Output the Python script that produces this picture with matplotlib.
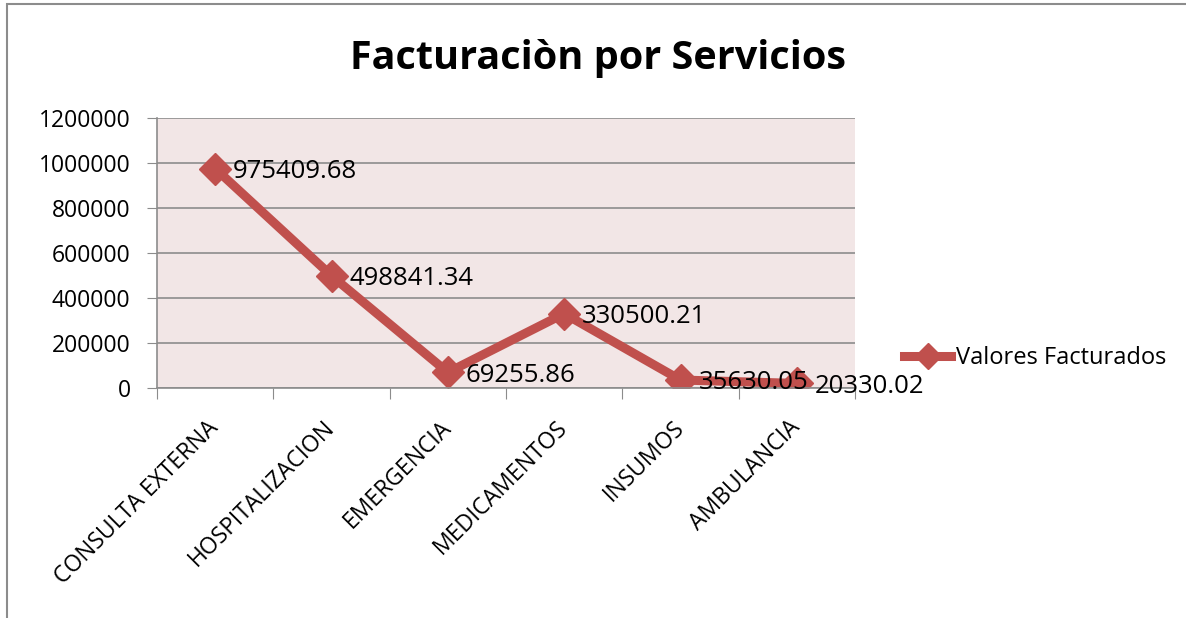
import matplotlib
matplotlib.use('Agg')
import matplotlib.pyplot as plt
from matplotlib.patches import Rectangle

# datos
servicios = ['CONSULTA EXTERNA', 'HOSPITALIZACION', 'EMERGENCIA', 'MEDICAMENTOS', 'INSUMOS', 'AMBULANCIA']
valores = [975409.68, 498841.34, 69255.86, 330500.21, 35630.05, 20330.02]
etiquetas = ['975409.68', '498841.34', '69255.86', '330500.21', '35630.05', '20330.02']
yticks = [0, 200000, 400000, 600000, 800000, 1000000, 1200000]

plt.rcParams['font.family'] = ['Open Sans', 'DejaVu Sans']
rojo = '#C0504D'

fig = plt.figure(figsize=(11.86, 6.18), dpi=100)
fig.patch.set_facecolor('white')
# borde del grafico
fig.patches.append(Rectangle((7 / 1186, -0.05), 1.2, 1 - 4 / 618 + 0.05, transform=fig.transFigure,
                             fill=False, edgecolor='#8c8c8c', linewidth=1.5))

ax = fig.add_axes([157 / 1186, 230 / 618, 698 / 1186, 270 / 618])
ax.set_facecolor('#F2E6E6')

x = list(range(len(servicios)))
ax.plot(x, valores, color=rojo, linewidth=6.5, marker='D', markersize=16,
        label='Valores Facturados', solid_joinstyle='miter')

for xi, v, t in zip(x, valores, etiquetas):
    ax.annotate(t, (xi, v), xytext=(13, -2), textcoords='offset points',
                ha='left', va='center', fontsize=18.5)

ax.set_xlim(-0.5, len(servicios) - 0.5)
ax.set_ylim(0, 1200000)
ax.set_yticks(yticks)
ax.set_yticklabels([str(v) for v in yticks], fontsize=16.5)
ax.yaxis.grid(True, color='#8c8c8c', linewidth=1.2)
ax.set_axisbelow(True)

ax.set_xticks([i - 0.5 for i in range(len(servicios) + 1)], minor=False)
ax.set_xticklabels([''] * (len(servicios) + 1))
ax.set_xticks(x, minor=True)
ax.set_xticklabels(servicios, minor=True, rotation=45, ha='right', va='center',
                   rotation_mode='anchor', fontsize=16.5)
ax.tick_params(axis='x', which='minor', length=0, pad=26)
ax.tick_params(axis='x', which='major', length=8, color='#8c8c8c', direction='out')
ax.tick_params(axis='y', length=7, color='#8c8c8c', direction='out', pad=12)

for s in ['top', 'right']:
    ax.spines[s].set_visible(False)
for s in ['left', 'bottom']:
    ax.spines[s].set_color('#8c8c8c')
    ax.spines[s].set_linewidth(1.2)

fig.text(598 / 1186, 1 - 58 / 618, 'Facturaciòn por Servicios', ha='center', va='center',
         fontsize=28.5, fontweight='bold')

ax.legend(loc='center left', bbox_to_anchor=(1.04, 0.11), frameon=False, fontsize=17,
          handlelength=2.0, handletextpad=0.2, markerscale=0.85)

fig.savefig('out.png', dpi=100)
